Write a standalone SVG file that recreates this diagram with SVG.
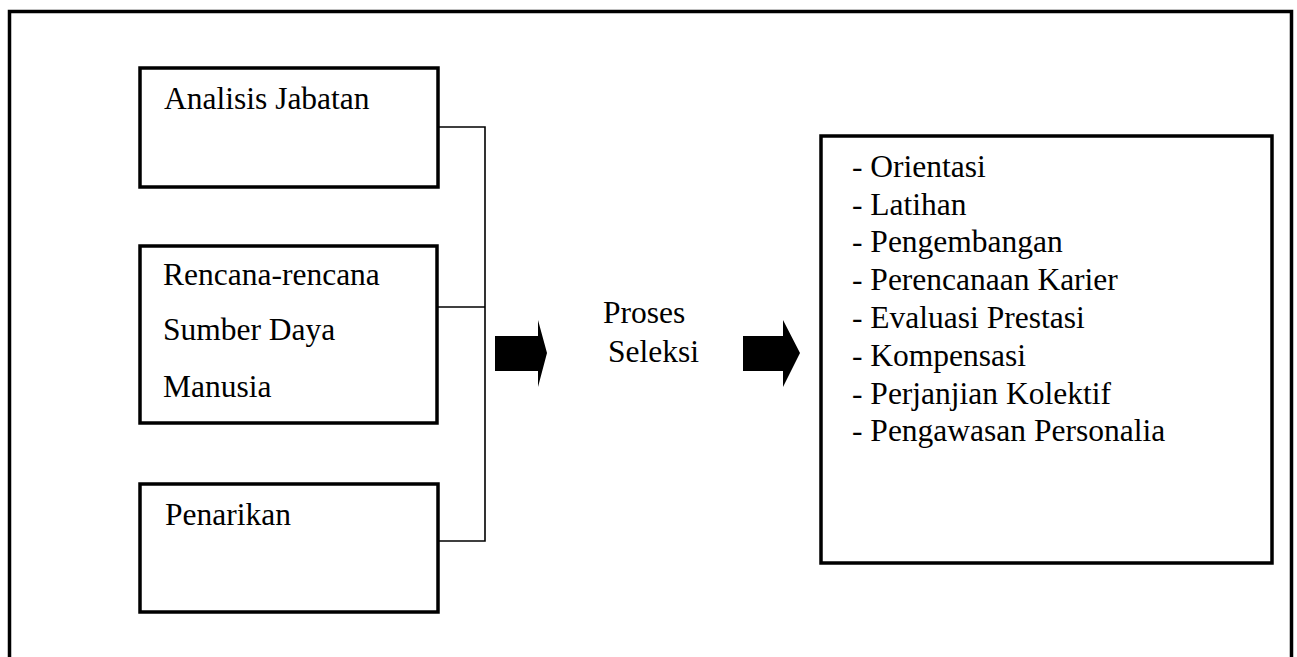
<svg xmlns="http://www.w3.org/2000/svg" width="1297" height="657" viewBox="0 0 1297 657">
<style>
.box{fill:#fff;stroke:#000;stroke-width:3.5}
.t{font-family:"Liberation Serif","Times New Roman",serif;font-size:31.5px;fill:#000}
.c{fill:none;stroke:#000;stroke-width:1.6}
.ar{fill:#000}
</style>
<rect width="1297" height="657" fill="#fff"/>
<path d="M9.5,670 V11.5 H1291.5 V670" fill="none" stroke="#000" stroke-width="3.5"/>
<g id="connectors">
<path class="c" d="M438,127 H485 V541 H438"/>
<path class="c" d="M438,307 H485"/>
<polygon class="ar" points="495,336 538,336 538,320 547,353 538,387 538,371 495,371"/>
<polygon class="ar" points="743,336 783,336 783,320 800,353 783,387 783,371 743,371"/>
</g>
<g id="n1">
<rect class="box" x="140" y="68" width="298" height="119"/>
<text class="t" x="164" y="109">Analisis Jabatan</text>
</g>
<g id="n2">
<rect class="box" x="140" y="246" width="297" height="177"/>
<text class="t" x="163" y="285">Rencana-rencana</text>
<text class="t" x="163" y="340">Sumber Daya</text>
<text class="t" x="163" y="397">Manusia</text>
</g>
<g id="n3">
<rect class="box" x="140" y="484" width="298" height="128"/>
<text class="t" x="165" y="525">Penarikan</text>
</g>
<g id="n4">
<text class="t" x="603" y="323">Proses</text>
<text class="t" x="608" y="362">Seleksi</text>
</g>
<g id="n5">
<rect class="box" x="821" y="136" width="451" height="427"/>
<text class="t" x="852" y="177">- Orientasi</text>
<text class="t" x="852" y="215">- Latihan</text>
<text class="t" x="852" y="252">- Pengembangan</text>
<text class="t" x="852" y="290">- Perencanaan Karier</text>
<text class="t" x="852" y="328">- Evaluasi Prestasi</text>
<text class="t" x="852" y="366">- Kompensasi</text>
<text class="t" x="852" y="404">- Perjanjian Kolektif</text>
<text class="t" x="852" y="441">- Pengawasan Personalia</text>
</g>
</svg>
